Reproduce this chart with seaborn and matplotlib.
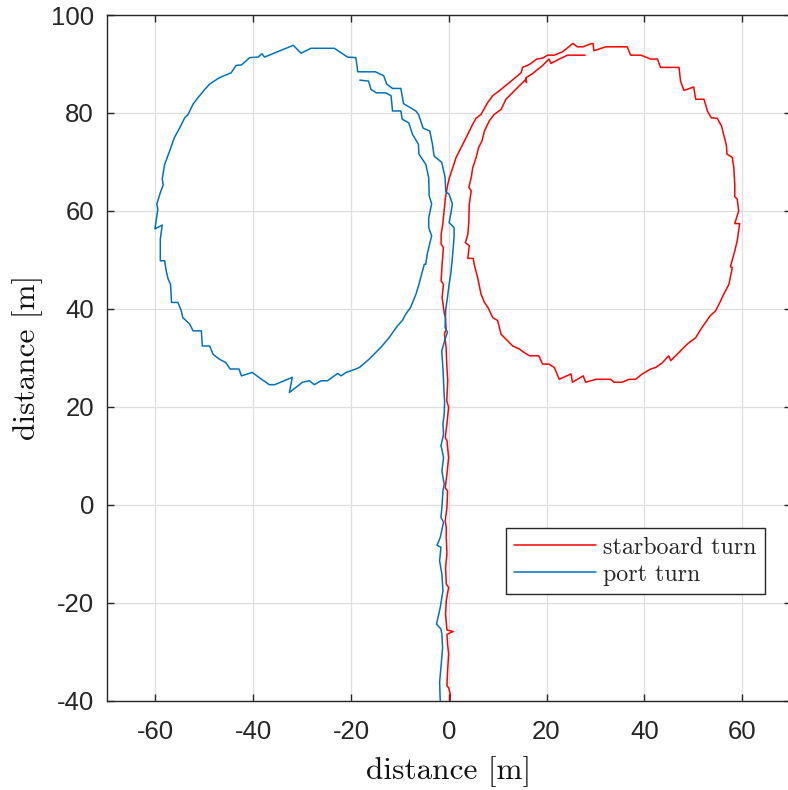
import matplotlib
matplotlib.use("Agg")
import matplotlib.pyplot as plt
import seaborn as sns
import pandas as pd
from matplotlib.lines import Line2D

# ---- data (metres) ----
stbd_x = [0.31, 0.31, -0.03, -0.37, -0.24, -0.03, -0.24, -0.37, 0.9, -0.37, -0.65, -0.51, -0.03, -0.51,
          -0.65, -0.37, -0.51, -0.51, -0.72, -0.37, -0.24, -0.72, -0.37, -0.03, -0.37, -0.72, -0.37, -0.03,
          -0.41, -0.20, -0.41, -0.54, -0.88, -0.54, -0.68, -0.88, -1.36, -1.09, -1.56, -1.36, -1.09, -1.56,
          -1.56, -1.22, -0.88, -0.68, -0.20, 0.14, 0.82, 1.50, 2.52, 3.88, 4.90, 5.58, 6.60, 7.96, 8.98,
          10.3, 12.4, 14.8, 15.1, 16.5, 18.0, 19.2, 20.2, 21.6, 23.3, 24.3, 25.4, 26.3, 27.5, 28.7, 29.5,
          29.7, 32.1, 36.5, 37.2, 39.3, 41.3, 42.7, 43.3, 47.1, 47.4, 48.1, 50.1, 50.5, 52.2, 52.9, 53.7,
          54.9, 55.8, 56.3, 56.8, 56.9, 58.0, 58.3, 58.5, 58.5, 59.0, 59.3, 58.5, 59.5, 59.0, 58.5, 57.6,
          58.0, 57.3, 55.9, 55.8, 54.6, 53.5, 51.8, 50.5, 48.8, 48.1, 47.1, 45.4, 45.0, 43.7, 42.3, 41.3,
          39.6, 38.2, 36.9, 35.5, 33.8, 33.1, 30.1, 28.0, 27.5, 25.3, 25.0, 22.6, 21.6, 20.5, 19.2, 18.4,
          16.5, 15.4, 14.4, 13.1, 12.4, 10.7, 10.0, 9.0, 8.0, 7.3, 6.6, 5.9, 5.2, 5.0, 3.9, 4.2, 3.4, 3.9,
          4.1, 4.2, 4.6, 4.1, 4.6, 4.9, 5.6, 6.1, 6.8, 7.3, 8.3, 9.3, 10.7, 11.7, 13.4, 14.4, 15.8, 15.9,
          15.8, 17.1, 19.2, 20.5, 20.9, 22.6, 24.3, 27.9]
stbd_y = [-40.0, -38.7, -37.4, -37.0, -34.0, -30.5, -28.5, -26.5, -25.9, -25.6, -22.4, -19.6, -16.9, -16.2,
          -12.8, -10.1, -6.7, -4.7, -3.3, -0.6, 2.8, 3.4, 6.2, 9.6, 13.1, 13.7, 16.5, 19.9,
          21.2, 25.3, 28.7, 32.1, 34.8, 35.9, 38.2, 38.9, 42.3, 45.0, 45.7, 49.1, 52.5, 53.2,
          55.2, 57.3, 60.7, 62.7, 65.4, 66.8, 68.8, 70.9, 72.9, 75.6, 77.7, 78.9, 79.7, 82.1, 83.5,
          84.5, 86.2, 88.2, 89.3, 89.9, 91.0, 91.2, 91.8, 91.8, 92.5, 93.3, 94.2, 93.5, 93.5, 94.0, 94.2,
          92.7, 93.5, 93.5, 91.8, 91.8, 91.0, 91.0, 89.3, 89.3, 86.5, 84.6, 85.3, 82.8, 82.8, 80.4, 79.0,
          78.9, 77.3, 75.3, 73.3, 71.6, 70.9, 68.8, 65.4, 62.9, 62.4, 60.0, 57.4, 57.4, 53.9, 51.8, 48.6,
          48.4, 45.0, 42.3, 42.0, 39.6, 38.6, 36.2, 34.1, 32.8, 32.1, 31.1, 29.4, 30.4, 29.0, 28.0, 27.7,
          26.7, 25.6, 25.6, 25.0, 25.0, 25.6, 25.6, 25.0, 26.3, 25.0, 26.7, 25.6, 28.0, 28.7, 28.7, 30.4,
          30.4, 31.1, 31.8, 32.4, 33.1, 34.8, 37.6, 38.2, 40.3, 41.3, 43.0, 46.4, 49.1, 50.3, 50.3, 52.9, 53.5, 55.2,
          57.6, 61.4, 64.1, 64.8, 66.8, 68.8, 70.9, 72.9, 74.3, 76.3, 78.4, 79.7, 80.7, 82.8, 84.5, 85.5, 86.9, 86.2,
          87.2, 88.0, 89.7, 91.0, 90.1, 91.0, 91.8, 91.8]

port_x = [-1.74, -1.87, -1.60, -1.26, -1.40, -1.60, -2.5, -1.74, -1.19, -1.40, -1.87, -1.60, -2.4,
          -1.74, -1.06, -1.60, -1.40, -1.19, -0.92, -1.19, -1.40, -1.06, -1.40, -1.60, -1.06, -1.19,
          -0.92, -0.85, -0.95, -1.16, -1.43, -0.75, -0.27, -0.75, -0.61, -0.27, 0.07, 0.41, 0.75, 1.09,
          1.09, 0.07, 0.41, 0.75, 0.07, -0.61, -0.75, -1.43, -3.0, -3.33, -3.88, -5.24, -6.19, -6.73,
          -9.25, -9.8, -11.5, -12.7, -13.3, -15.0, -18.6, -19.0, -20.7, -23.4, -28.2, -30.2, -31.8,
          -37.7, -38.2, -39.0, -40.7, -42.4, -43.5, -44.5, -46.9, -48.9, -49.9, -51.3, -52.3, -53.3,
          -54.0, -55.0, -56.1, -56.7, -57.1, -58.1, -58.6, -58.4, -59.0, -59.7, -59.5, -60.1, -58.6,
          -59.0, -59.0, -58.1, -57.8, -57.4, -56.9, -56.7, -55.4, -54.7, -54.4, -53.0, -52.3, -50.6,
          -50.4, -48.9, -48.2, -46.9, -45.6, -44.7, -42.9, -42.4, -40.2, -38.0, -36.7, -35.6, -32.0,
          -32.6, -29.9, -28.5, -27.5, -26.1, -24.8, -22.7, -22.0, -21.0, -19.0, -18.3, -16.3, -14.6,
          -13.9, -12.2, -10.5, -9.5, -8.8, -7.8, -6.7, -6.1, -5.0, -4.7, -4.4, -3.5, -4.1, -4.1, -3.5,
          -4.0, -4.1, -4.7, -6.1, -6.2, -7.4, -8.2, -9.5, -9.8, -11.5, -11.8, -12.9, -14.8, -15.9,
          -16.4, -18.2]
port_y = [-40.0, -36.3, -33.3, -29.2, -26.5, -25.4, -24.4, -21.0, -17.6, -14.2, -11.5, -8.7, -8.3,
          -6.7, -3.6, -2.6, -0.6, 2.8, 4.2, 5.6, 6.9, 9.6, 11.3, 12.0, 14.4, 16.5,
          18.5, 21.2, 22.6, 27.3, 31.4, 33.8, 35.2, 36.2, 39.9, 42.3, 45.0, 47.1, 50.5, 54.6,
          56.6, 57.6, 59.3, 61.4, 63.4, 63.9, 66.8, 69.9, 71.2, 73.6, 76.3, 76.9, 79.7, 80.4,
          81.9, 85.0, 85.0, 85.9, 87.6, 88.4, 88.4, 91.3, 91.4, 93.2, 93.2, 92.2, 93.8,
          91.4, 92.1, 91.4, 91.3, 89.8, 89.7, 88.2, 87.2, 85.9, 84.8, 83.1, 81.8, 79.7,
          79.0, 77.0, 75.0, 73.3, 72.2, 69.5, 66.5, 65.3, 63.7, 61.4, 60.3, 56.3, 57.1,
          54.2, 49.8, 49.8, 47.8, 46.1, 45.0, 41.3, 41.3, 39.6, 38.2, 36.9, 35.5, 35.5,
          32.4, 32.4, 30.7, 29.7, 29.0, 27.7, 27.7, 26.3, 27.0, 25.4, 24.5, 24.5, 26.0,
          22.9, 25.0, 25.3, 24.5, 25.3, 25.3, 26.8, 26.3, 27.0, 27.7, 28.0, 29.7, 31.4,
          32.1, 34.1, 36.5, 37.6, 38.9, 40.3, 43.0, 45.0, 49.1, 49.1, 51.2, 54.9, 56.6, 58.6, 61.4,
          63.1, 66.8, 69.5, 71.6, 73.6, 75.6, 78.0, 78.7, 80.4, 80.4, 83.5, 84.1, 84.1, 84.8,
          86.5, 86.7]

series_names = ["starboard turn", "port turn"]
series_colors = ["#FF0000", "#0072BD"]
x_ticks = [-60, -40, -20, 0, 20, 40, 60]
y_ticks = [-40, -20, 0, 20, 40, 60, 80, 100]

df = pd.concat([
    pd.DataFrame({"x": stbd_x, "y": stbd_y, "series": series_names[0]}),
    pd.DataFrame({"x": port_x, "y": port_y, "series": series_names[1]}),
], ignore_index=True)

sns.set_style("ticks")
plt.rcParams["font.family"] = ["Liberation Sans", "DejaVu Sans"]

fig = plt.figure(figsize=(7.88, 7.90), dpi=100)
ax = fig.add_axes([106.5 / 788, (790 - 700.5) / 790, (791 - 106.5) / 788, 685.5 / 790])

sns.lineplot(data=df, x="x", y="y", hue="series", hue_order=series_names,
             palette=series_colors, sort=False, estimator=None, units="series",
             linewidth=1.1, ax=ax, legend=False)

ax.set_xlim(-70, 70)
ax.set_ylim(-40, 100)
ax.set_xticks(x_ticks)
ax.set_yticks(y_ticks)
ax.set_xticklabels([str(v) for v in x_ticks])
ax.set_yticklabels([str(v) for v in y_ticks])
ax.grid(True, color="#dfdfdf", linewidth=0.9)
ax.set_axisbelow(True)
for s in ax.spines.values():
    s.set_color("#262626")
    s.set_linewidth(1.0)
ax.tick_params(axis="both", direction="in", top=True, right=True, length=5, width=1.0,
               colors="#262626", labelsize=18.5)
ax.tick_params(axis="x", pad=14)
ax.tick_params(axis="y", pad=9)

cm = "cmr10"
ax.set_xlabel("distance [m]", fontfamily=cm, fontsize=22.5, color="#111111", labelpad=9)
ax.set_ylabel("distance [m]", fontfamily=cm, fontsize=22.5, color="#111111", labelpad=6)

handles = [Line2D([], [], color=c, linewidth=1.1) for c in series_colors]
leg = ax.legend(handles, series_names, loc="lower right", bbox_to_anchor=(0.962, 0.155),
                borderaxespad=0, prop={"family": cm, "size": 17.3}, frameon=True,
                fancybox=False, framealpha=1, edgecolor="#262626", handlelength=3.4,
                handletextpad=0.3, borderpad=0.35, labelspacing=0.2)
leg.get_frame().set_linewidth(1.0)

fig.savefig("out.png", dpi=100)
